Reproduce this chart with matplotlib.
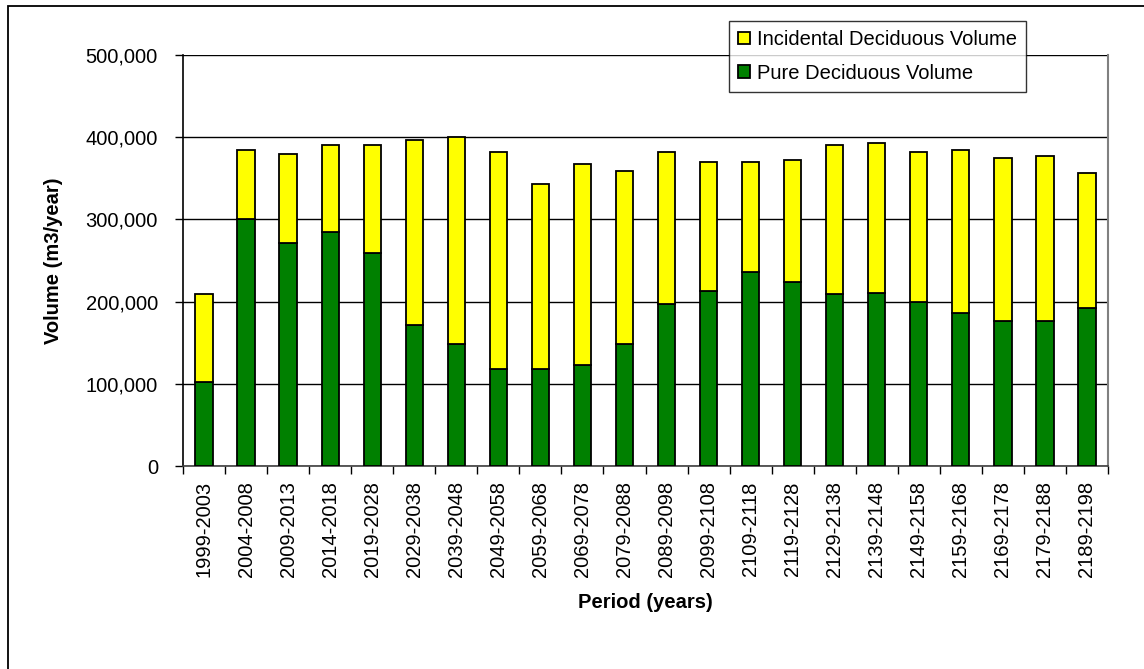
import matplotlib
matplotlib.use("Agg")
import matplotlib.pyplot as plt
from matplotlib.patches import Rectangle
from matplotlib.ticker import FuncFormatter, FixedLocator
import numpy as np

plt.rcParams['font.family'] = ['Liberation Sans', 'DejaVu Sans']

periods = ["1999-2003", "2004-2008", "2009-2013", "2014-2018", "2019-2028",
           "2029-2038", "2039-2048", "2049-2058", "2059-2068", "2069-2078",
           "2079-2088", "2089-2098", "2099-2108", "2109-2118", "2119-2128",
           "2129-2138", "2139-2148", "2149-2158", "2159-2168", "2169-2178",
           "2179-2188", "2189-2198"]

pure_volume = [102000, 301000, 271000, 285000, 259000, 172000, 148000, 118000,
               118000, 122500, 148000, 197000, 213000, 236000, 224000, 209000,
               211000, 200000, 186000, 176000, 176000, 192000]

total_volume = [209000, 384000, 380000, 391000, 391000, 396000, 400000, 382000,
                343000, 368000, 358500, 382000, 370000, 370000, 372000, 391000,
                393000, 382000, 384000, 375000, 377000, 356000]

incidental_volume = [t - p for t, p in zip(total_volume, pure_volume)]

W, H = 1144, 669
fig = plt.figure(figsize=(W / 100, H / 100), dpi=100)
ax = fig.add_axes([183 / W, 1 - 466 / H, (1108 - 183) / W, (466 - 55) / H])

x = np.arange(len(periods))
bw = 0.41
ax.bar(x, pure_volume, width=bw, color="#008000", edgecolor="black",
       linewidth=1.3, label="Pure Deciduous Volume", zorder=3)
ax.bar(x, incidental_volume, bottom=pure_volume, width=bw, color="#FFFF00",
       edgecolor="black", linewidth=1.3, label="Incidental Deciduous Volume",
       zorder=3)

ax.set_xlim(-0.5, len(periods) - 0.5)
ax.set_ylim(0, 500000)
ax.set_yticks(np.arange(0, 500001, 100000))
ax.yaxis.set_major_formatter(FuncFormatter(lambda v, _: f"{int(v):,}"))
ax.yaxis.grid(True, color="black", linewidth=1.0, zorder=0)

ax.set_xticks(x)
ax.set_xticklabels(periods, rotation=90, fontsize=14.5)
ax.tick_params(axis="x", which="major", length=0, pad=11)
ax.xaxis.set_minor_locator(FixedLocator(np.arange(-0.5, len(periods), 1.0)))
ax.tick_params(axis="x", which="minor", length=6, width=1, color="black")
ax.tick_params(axis="y", length=6, width=1, labelsize=14.5, pad=12)

ax.spines["top"].set_visible(False)
ax.spines["right"].set_color("#808080")
ax.spines["right"].set_linewidth(1.5)
ax.spines["left"].set_linewidth(1.2)
ax.spines["bottom"].set_linewidth(1.2)
ax.spines["bottom"].set_color("#404040")

ax.set_ylabel("Volume (m3/year)", fontsize=14.5, fontweight="bold", labelpad=16)
fig.text(645 / W, 1 - 603 / H, "Period (years)", fontsize=14.5,
         fontweight="bold", ha="center", va="center")

handles, labels = ax.get_legend_handles_labels()
leg = ax.legend(handles[::-1], labels[::-1], loc="upper left",
                bbox_to_anchor=(729 / W, 1 - 21 / H), bbox_transform=fig.transFigure,
                fontsize=14.5, frameon=True, fancybox=False, shadow=False,
                handlelength=0.6, handleheight=0.6, handletextpad=0.35,
                borderpad=0.45, labelspacing=0.72, borderaxespad=0)
leg.get_frame().set_edgecolor("black")
leg.get_frame().set_linewidth(1.0)
leg.set_zorder(5)

# outer chart border (left and top edges)
fig.patches.append(Rectangle((8 / W, -0.1), 1.2, 1 - 6 / H + 0.1,
                             transform=fig.transFigure, fill=False,
                             edgecolor="black", linewidth=1.3))

fig.savefig("out.png", dpi=100)
